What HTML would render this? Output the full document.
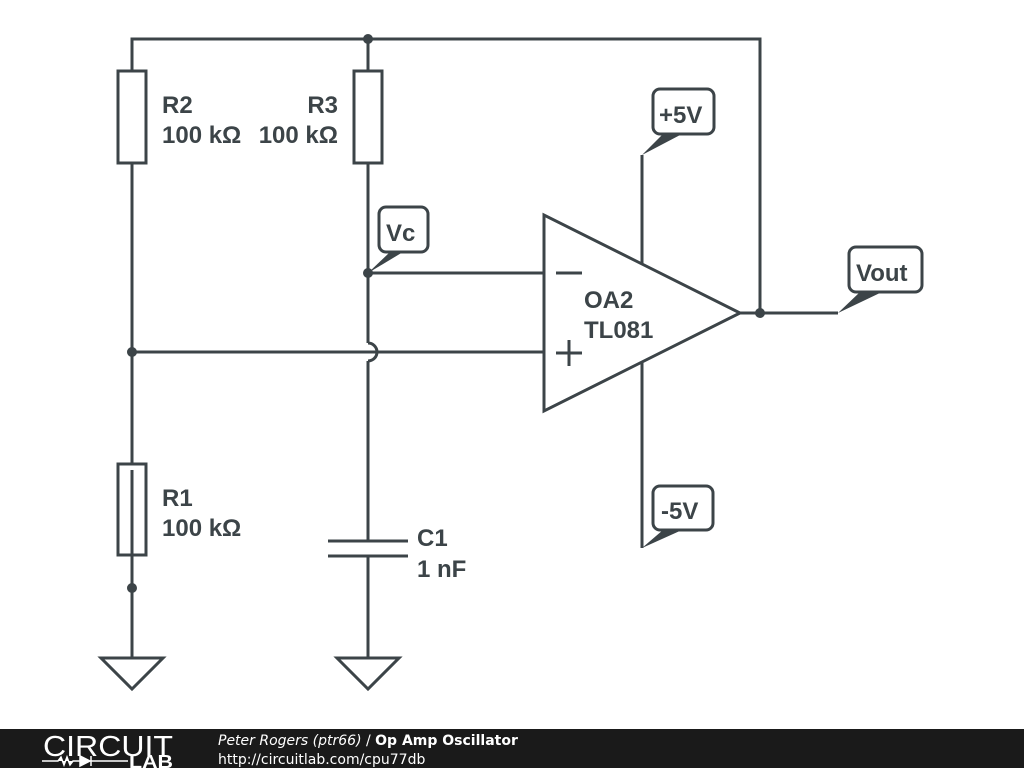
<!DOCTYPE html>
<html><head><meta charset="utf-8"><style>
html,body{margin:0;padding:0;background:#fff;width:1024px;height:768px;overflow:hidden}
svg{display:block}
.t{font-family:"Liberation Sans","DejaVu Sans",sans-serif;font-weight:bold;font-size:24px;fill:#3c4448}
</style></head><body>
<svg width="1024" height="768" viewBox="0 0 1024 768">
<g stroke="#3c4448" stroke-width="3" fill="none" stroke-linejoin="miter">
<polyline points="132,71 132,39 760,39 760,313"/>
<line x1="368" y1="39" x2="368" y2="71"/>
<rect x="118" y="71" width="28" height="92" fill="#fff"/>
<rect x="354" y="71" width="28" height="92" fill="#fff"/>
<line x1="132" y1="163" x2="132" y2="464"/>
<rect x="118" y="464" width="28" height="91" fill="#fff"/>
<line x1="132" y1="470" x2="132" y2="555"/>
<line x1="132" y1="555" x2="132" y2="658"/>
<polygon points="101,658 163,658 132,689" fill="#fff"/>
<line x1="368" y1="163" x2="368" y2="343"/>
<path d="M368,343 A9,9 0 0 1 368,361"/>
<line x1="368" y1="361" x2="368" y2="541"/>
<line x1="328" y1="541" x2="408" y2="541"/>
<line x1="328" y1="556" x2="408" y2="556"/>
<line x1="368" y1="556" x2="368" y2="658"/>
<polygon points="337,658 399,658 368,689" fill="#fff"/>
<line x1="368" y1="273" x2="544" y2="273"/>
<line x1="132" y1="352" x2="544" y2="352"/>
<polygon points="544,215 544,411 740,313" fill="#fff"/>
<line x1="740" y1="313" x2="838" y2="313"/>
<line x1="642" y1="155" x2="642" y2="264"/>
<line x1="642" y1="362" x2="642" y2="548"/>
<line x1="556" y1="273" x2="582" y2="273"/>
<line x1="556" y1="353" x2="582" y2="353"/>
<line x1="569" y1="340" x2="569" y2="366"/>
<rect x="379" y="207" width="49" height="45" rx="7" fill="#fff"/>
<rect x="653" y="89" width="61" height="45" rx="7" fill="#fff"/>
<rect x="849" y="247" width="73" height="45" rx="7" fill="#fff"/>
<rect x="653" y="486" width="60" height="44" rx="7" fill="#fff"/>
</g>
<g fill="#3c4448">
<circle cx="368" cy="39" r="5"/>
<circle cx="132" cy="352" r="5"/>
<circle cx="132" cy="588" r="5"/>
<circle cx="368" cy="273" r="5"/>
<circle cx="760" cy="313" r="5"/>
<polygon points="368,273 390,252 403,252"/>
<polygon points="642,155 663,134 682,134"/>
<polygon points="838,313 860,292 882,292"/>
<polygon points="642,548 663,530 682,530"/>
</g>
<text class="t" x="162" y="113">R2</text>
<text class="t" x="162" y="143">100 kΩ</text>
<text class="t" x="338" y="113" text-anchor="end">R3</text>
<text class="t" x="338" y="143" text-anchor="end">100 kΩ</text>
<text class="t" x="162" y="506">R1</text>
<text class="t" x="162" y="536">100 kΩ</text>
<text class="t" x="417" y="546">C1</text>
<text class="t" x="417" y="577">1 nF</text>
<text class="t" x="584" y="308">OA2</text>
<text class="t" x="584" y="338">TL081</text>
<text class="t" x="386" y="241">Vc</text>
<text class="t" x="659" y="123">+5V</text>
<text class="t" x="856" y="281">Vout</text>
<text class="t" x="661" y="519">-5V</text>
<rect x="0" y="729" width="1024" height="39" fill="#1a1a1a"/>
<text x="43" y="756" font-family="Liberation Sans,sans-serif" font-size="29" fill="#fff" textLength="130" lengthAdjust="spacingAndGlyphs">CIRCUIT</text>
<path d="M42,761 H58 l3,-4 3,8 3,-8 3,8 3,-4 H80 M80,756 v10 l10,-5 z M91,756 v10 M91,761 H128" stroke="#fff" stroke-width="1.5" fill="#fff"/>
<text x="129" y="768" font-family="Liberation Sans,sans-serif" font-size="18" font-weight="bold" fill="#fff" textLength="44" lengthAdjust="spacingAndGlyphs">LAB</text>
<text x="218" y="745" font-family="DejaVu Sans,sans-serif" font-size="14" fill="#fff"><tspan font-style="italic">Peter Rogers (ptr66)</tspan> / <tspan font-weight="bold">Op Amp Oscillator</tspan></text>
<text x="218" y="764" font-family="DejaVu Sans,sans-serif" font-size="14" fill="#fff">http://circuitlab.com/cpu77db</text>
</svg>
</body></html>
